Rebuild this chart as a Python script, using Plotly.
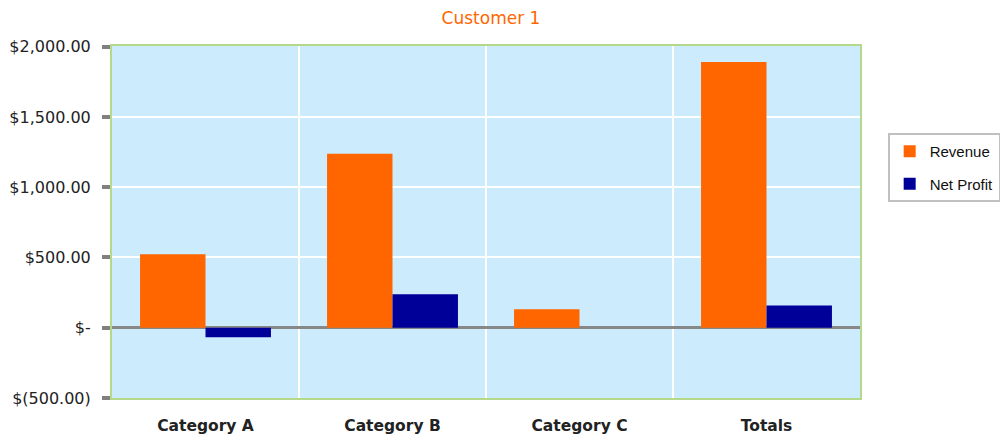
import plotly.graph_objects as go

categories = ["Category A", "Category B", "Category C", "Totals"]
revenue = [523, 1238, 131, 1892]
net_profit = [-67, 238, 0, 159]

tick_vals = [-500, 0, 500, 1000, 1500, 2000]
tick_text = ["$(500.00)", "$-", "$500.00", "$1,000.00", "$1,500.00", "$2,000.00"]

fig = go.Figure()
fig.add_trace(go.Bar(name="Revenue", x=categories, y=revenue, marker_color="#FF6600",
                     marker_line_width=0, legendgroup="rev"))
fig.add_trace(go.Bar(name="Net Profit", x=categories, y=net_profit, marker_color="#000099",
                     marker_line_width=0, legendgroup="np"))

fig.update_layout(
    width=1000, height=438,
    margin=dict(l=112, r=140, t=46, b=40, autoexpand=False),
    paper_bgcolor="white",
    plot_bgcolor="#CCEBFD",
    barmode="group", bargap=0.3, bargroupgap=0,
    title=dict(text="Customer 1", x=0.491, xanchor="center", y=0.958, yanchor="middle",
               font=dict(family="DejaVu Sans", size=17, color="#FF6600")),
    legend=dict(x=1.037, y=0.753, xanchor="left", yanchor="top",
                bordercolor="#C0C0C0", borderwidth=2, bgcolor="white",
                font=dict(family="Liberation Sans", size=15, color="#111"),
                tracegroupgap=10, itemwidth=30),
    showlegend=True,
)
fig.update_xaxes(
    type="category", tickson="boundaries", showgrid=True, gridcolor="white", gridwidth=2,
    ticks="", showline=True, linecolor="#B5D98A", linewidth=2, mirror=True,
    tickfont=dict(family="DejaVu Sans", size=15.5, color="#222", weight="bold"),
    ticklabelstandoff=12,
)
fig.update_yaxes(
    range=[-500, 2005], tickvals=tick_vals, ticktext=tick_text,
    showgrid=True, gridcolor="white", gridwidth=2,
    zeroline=True, zerolinecolor="#888888", zerolinewidth=3,
    ticks="outside", ticklen=8, tickwidth=4, tickcolor="#808080",
    showline=True, linecolor="#B5D98A", linewidth=2, mirror=True,
    tickfont=dict(family="DejaVu Sans", size=16, color="#222"),
    ticklabelstandoff=8,
)

fig.write_html("out.html")
